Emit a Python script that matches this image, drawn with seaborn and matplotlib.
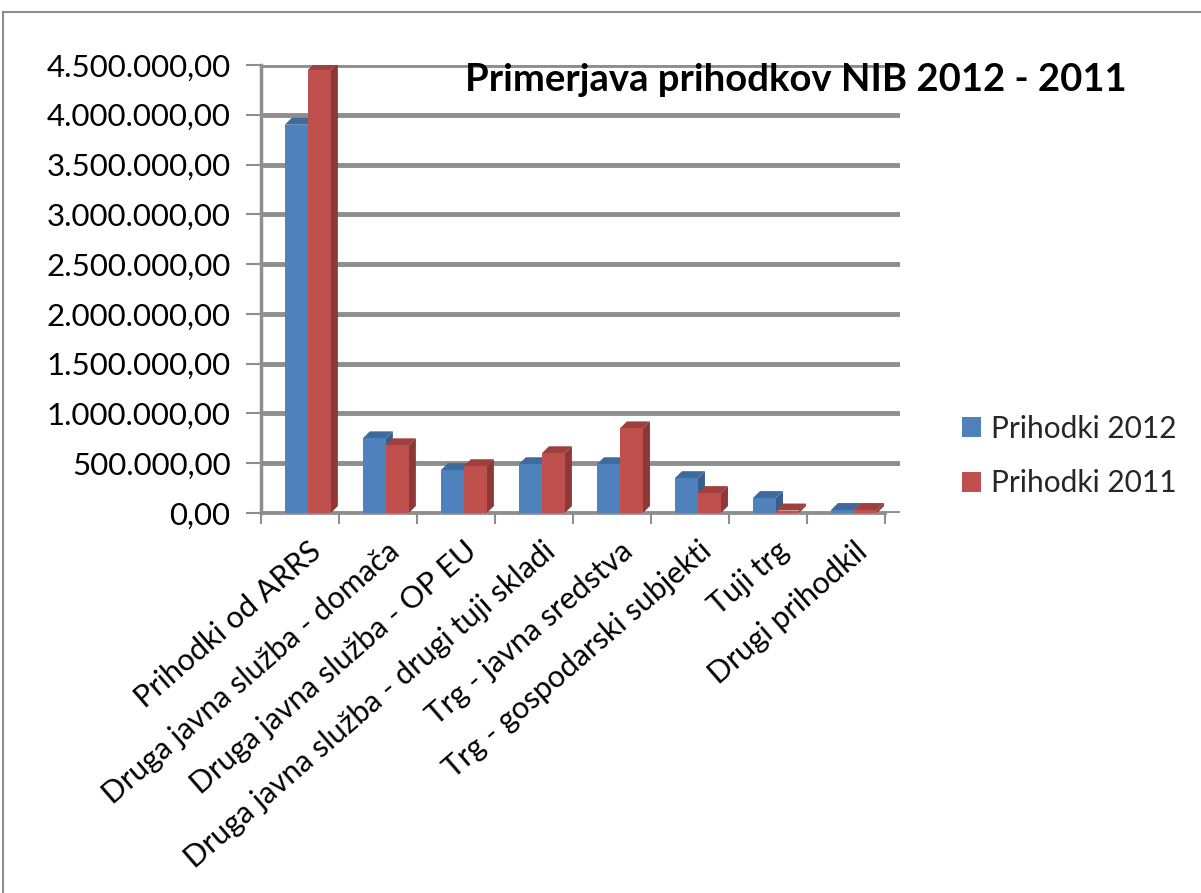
import numpy as np
import pandas as pd
import matplotlib
matplotlib.use("Agg")
import matplotlib.pyplot as plt
import seaborn as sns
from matplotlib.patches import Polygon, Rectangle, Patch

categories = ["Prihodki od ARRS", "Druga javna služba - domača",
              "Druga javna služba - OP EU", "Druga javna služba - drugi tuji skladi",
              "Trg - javna sredstva", "Trg - gospodarski subjekti", "Tuji trg", "Drugi prihodkil"]
series_names = ["Prihodki 2012", "Prihodki 2011"]
prihodki_2012 = [3900000, 750000, 430000, 490000, 490000, 350000, 150000, 30000]
prihodki_2011 = [4450000, 680000, 470000, 600000, 850000, 200000, 25000, 30000]
y_ticks = [0, 500000, 1000000, 1500000, 2000000, 2500000, 3000000, 3500000, 4000000, 4500000]
title = "Primerjava prihodkov NIB 2012 - 2011"

colors = ["#4F81BD", "#C0504D"]
side_colors = ["#375E8C", "#8C3836"]
top_colors = ["#3E6A9E", "#9E403D"]

df = pd.DataFrame({
    "kategorija": categories * 2,
    "serija": [series_names[0]] * len(categories) + [series_names[1]] * len(categories),
    "vrednost": prihodki_2012 + prihodki_2011,
})

sns.set_theme(style="white")
plt.rcParams["font.family"] = ["Lato", "DejaVu Sans"]

W, H = 1201, 893
fig = plt.figure(figsize=(W / 100, H / 100), dpi=100)
ax = fig.add_axes([261 / W, 1 - 513 / H, (900 - 261) / W, (513 - 65) / H])

sns.barplot(data=df, x="kategorija", y="vrednost", hue="serija", palette=colors,
            saturation=1, width=0.59, ax=ax, order=categories, hue_order=series_names,
            edgecolor="none", linewidth=0)

# 3D-like faces
dx = 0.09
dy = 70000
for ci, cont in enumerate(ax.containers):
    for p in cont.patches:
        x0, w, h = p.get_x(), p.get_width(), p.get_height()
        p.set_zorder(3)
        side = Polygon([(x0 + w, 0), (x0 + w, h), (x0 + w + dx, h + dy), (x0 + w + dx, dy)],
                       closed=True, facecolor=side_colors[ci], edgecolor="none", zorder=2.5)
        top = Polygon([(x0, h), (x0 + w, h), (x0 + w + dx, h + dy), (x0 + dx, h + dy)],
                      closed=True, facecolor=top_colors[ci], edgecolor="none", zorder=2.5)
        ax.add_patch(side)
        ax.add_patch(top)

ax.set_xlim(-0.6, 7.59)
ax.set_ylim(0, 4500000)
ax.set_yticks(y_ticks)

def fmt(v):
    s = f"{v:,.2f}"
    return s.replace(",", "X").replace(".", ",").replace("X", ".")

ax.set_yticklabels([fmt(v) for v in y_ticks])
ax.set_xlabel("")
ax.set_ylabel("")
ax.set_axisbelow(True)
ax.yaxis.grid(True, color="#8e8e8e", linewidth=3.5)
ax.xaxis.grid(False)

for s in ["top", "right"]:
    ax.spines[s].set_visible(False)
ax.spines["left"].set_color("#8e8e8e")
ax.spines["left"].set_linewidth(2.5)
ax.spines["bottom"].set_color("#8e8e8e")
ax.spines["bottom"].set_linewidth(2.0)
ax.spines["bottom"].set_bounds(-0.6, 7.4)

ax.tick_params(axis="y", which="major", length=11, width=1.5, color="#8e8e8e",
               pad=11, labelsize=22.5, labelcolor="black", left=True)
ax.set_xticks(range(len(categories)))
ax.set_xticklabels(categories, rotation=41, ha="right", va="top", rotation_mode="anchor")
ax.tick_params(axis="x", which="major", length=0, pad=17, labelsize=22, labelcolor="black")
ax.set_xticks(np.arange(len(categories) + 1) - 0.6, minor=True)
ax.tick_params(axis="x", which="minor", length=8, width=1.5, color="#8e8e8e", bottom=True)

leg = ax.get_legend()
if leg is not None:
    leg.remove()
handles = [Patch(facecolor=c, edgecolor="none") for c in colors]
fig.legend(handles, series_names, loc="center left", bbox_to_anchor=(962 / W, 1 - 456 / H),
           frameon=False, fontsize=21.5, handlelength=0.62, handleheight=0.62,
           handletextpad=0.35, labelspacing=0.9, borderaxespad=0, borderpad=0)

fig.text(465 / W, 1 - 80 / H, title, ha="left", va="center", fontsize=27.5,
         fontweight="bold", color="black")

fig.patches.append(Rectangle((3 / W, -0.1), 1.2, (H - 12) / H + 0.1, transform=fig.transFigure,
                             fill=False, edgecolor="#8c8c8c", linewidth=1.5, figure=fig))

fig.savefig("out.png", dpi=100)
